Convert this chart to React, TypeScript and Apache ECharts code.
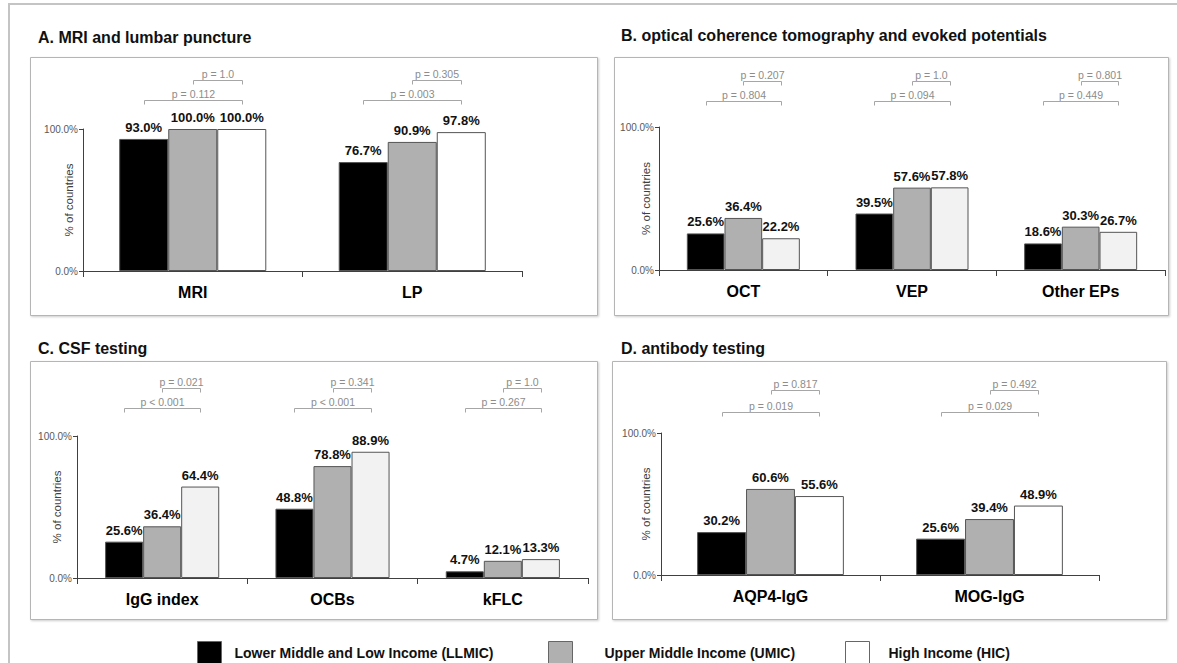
import React, { useEffect, useRef } from "react";
import * as echarts from "echarts";

const seriesNames = [
  "Lower Middle and Low Income (LLMIC)",
  "Upper Middle Income (UMIC)",
  "High Income (HIC)",
];

const panelTitles = [
  "A. MRI and lumbar puncture",
  "B. optical coherence tomography and evoked potentials",
  "C. CSF testing",
  "D. antibody testing",
];

const catsA = ["MRI", "LP"];
const llmicA = [93.0, 76.7];
const umicA = [100.0, 90.9];
const hicA = [100.0, 97.8];
const pOuterA = ["p = 0.112", "p = 0.003"];
const pInnerA = ["p = 1.0", "p = 0.305"];

const catsB = ["OCT", "VEP", "Other EPs"];
const llmicB = [25.6, 39.5, 18.6];
const umicB = [36.4, 57.6, 30.3];
const hicB = [22.2, 57.8, 26.7];
const pOuterB = ["p = 0.804", "p = 0.094", "p = 0.449"];
const pInnerB = ["p = 0.207", "p = 1.0", "p = 0.801"];

const catsC = ["IgG index", "OCBs", "kFLC"];
const llmicC = [25.6, 48.8, 4.7];
const umicC = [36.4, 78.8, 12.1];
const hicC = [64.4, 88.9, 13.3];
const pOuterC = ["p < 0.001", "p < 0.001", "p = 0.267"];
const pInnerC = ["p = 0.021", "p = 0.341", "p = 1.0"];

const catsD = ["AQP4-IgG", "MOG-IgG"];
const llmicD = [30.2, 25.6];
const umicD = [60.6, 39.4];
const hicD = [55.6, 48.9];
const pOuterD = ["p = 0.019", "p = 0.029"];
const pInnerD = ["p = 0.817", "p = 0.492"];

const yTicks = [0, 100];

const FONT = "'Liberation Sans', Arial, Helvetica, sans-serif";

const panelData = [
  { cats: catsA, vals: [llmicA, umicA, hicA], pOuter: pOuterA, pInner: pInnerA },
  { cats: catsB, vals: [llmicB, umicB, hicB], pOuter: pOuterB, pInner: pInnerB },
  { cats: catsC, vals: [llmicC, umicC, hicC], pOuter: pOuterC, pInner: pInnerC },
  { cats: catsD, vals: [llmicD, umicD, hicD], pOuter: pOuterD, pInner: pInnerD },
];

// layout (pixels)
const layout = [
  { box: [30, 57, 567, 258], title: [38, 38], grid: [83, 129, 439, 142], nameGap: 8, br: [29, 49], hic: "#ffffff" },
  { box: [614, 57, 554, 258], title: [621, 36], grid: [659, 127, 506, 143], nameGap: 7, br: [26, 46], hic: "#f2f2f2" },
  { box: [30, 361, 567, 258], title: [38, 349], grid: [77, 436, 511, 142], nameGap: 14, br: [28, 48], hic: "#f2f2f2" },
  { box: [612, 361, 554, 258], title: [621, 349], grid: [661, 433, 438, 142], nameGap: 9, br: [21, 43], hic: "#ffffff" },
];

const legendPos = [
  { left: 192, pad: 8 },
  { left: 543, pad: 27 },
  { left: 840, pad: 14 },
];

const GROUP = 0.67;

function makeRender(outer: string[], inner: string[], off1: number, off2: number) {
  return (params: any, api: any) => {
    const i = api.value(0);
    const c = api.coord([i, yTicks[1]]);
    const band = api.size([1, 0])[0];
    const bw = (band * GROUP) / 3;
    const x0 = Math.round(c[0] - bw) + 0.5;
    const x1 = Math.round(c[0]) + 0.5;
    const x2 = Math.round(c[0] + bw) + 0.5;
    const yo = Math.round(c[1] - off1) + 0.5;
    const yi = Math.round(c[1] - off2) + 0.5;
    const ls = { stroke: "#a6a6a6", fill: "none", lineWidth: 1 };
    const ts = { fill: "#8c8c8c", fontSize: 10.5, fontFamily: FONT, align: "center", verticalAlign: "middle" };
    return {
      type: "group",
      children: [
        { type: "polyline", shape: { points: [[x0, yo + 4], [x0, yo], [x2, yo], [x2, yo + 4]] }, style: ls },
        { type: "polyline", shape: { points: [[x1, yi + 4], [x1, yi], [x2, yi], [x2, yi + 4]] }, style: ls },
        { type: "text", x: (x0 + x2) / 2, y: yo - 7, style: { ...ts, text: outer[params.dataIndex] } },
        { type: "text", x: (x1 + x2) / 2, y: yi - 7, style: { ...ts, text: inner[params.dataIndex] } },
      ],
    };
  };
}

export default function App() {
  const ref = useRef<HTMLDivElement>(null);
  useEffect(() => {
    if (!ref.current) return;
    const chart = echarts.init(ref.current, undefined, { renderer: "svg" });
    const grids: any[] = [];
    const xAxes: any[] = [];
    const yAxes: any[] = [];
    const series: any[] = [];
    const titles: any[] = [];
    const graphics: any[] = [
      { type: "line", shape: { x1: 8, y1: 4, x2: 1177, y2: 4 }, style: { stroke: "#c4c4c4", lineWidth: 2 } },
      { type: "line", shape: { x1: 9, y1: 4, x2: 9, y2: 663 }, style: { stroke: "#c4c4c4", lineWidth: 2 } },
    ];
    panelData.forEach((pd, k) => {
      const L = layout[k];
      graphics.push({
        type: "rect",
        shape: { x: L.box[0] + 0.5, y: L.box[1] + 0.5, width: L.box[2], height: L.box[3] },
        style: { fill: "#ffffff", stroke: "#b5b5b5", lineWidth: 1, shadowBlur: 2, shadowOffsetX: 1, shadowOffsetY: 1, shadowColor: "rgba(0,0,0,0.2)" },
        z: -10,
      });
      titles.push({
        text: panelTitles[k],
        left: L.title[0],
        top: L.title[1] - 9,
        padding: 0,
        textStyle: { fontSize: 16, fontWeight: "bold", color: "#111", fontFamily: FONT },
      });
      grids.push({ left: L.grid[0], top: L.grid[1], width: L.grid[2], height: L.grid[3] });
      xAxes.push({
        type: "category",
        gridIndex: k,
        data: pd.cats,
        axisLine: { lineStyle: { color: "#404040", width: 1 } },
        axisTick: { show: true, length: 6, lineStyle: { color: "#404040" } },
        axisLabel: { fontSize: 16, fontWeight: "bold", color: "#000", margin: 13, fontFamily: FONT },
      });
      yAxes.push({
        type: "value",
        gridIndex: k,
        min: yTicks[0],
        max: yTicks[1],
        interval: 100,
        name: "% of countries",
        nameLocation: "middle",
        nameGap: L.nameGap,
        nameMoveOverlap: false,
        nameTextStyle: { fontSize: 11.5, color: "#404040", fontFamily: FONT },
        axisLine: { show: true, lineStyle: { color: "#404040", width: 1 } },
        axisTick: { show: true, length: 4, lineStyle: { color: "#404040" } },
        splitLine: { show: false },
        axisLabel: { fontSize: 10, color: "#595959", margin: 5, fontFamily: FONT, formatter: (v: number) => v.toFixed(1) + "%" },
      });
      const colors = ["#000000", "#b0b0b0", L.hic];
      pd.vals.forEach((vals, s) => {
        series.push({
          type: "bar",
          name: seriesNames[s],
          xAxisIndex: k,
          yAxisIndex: k,
          data: vals,
          barGap: "0%",
          barCategoryGap: "33%",
          itemStyle: { color: colors[s], borderColor: "#555555", borderWidth: 1 },
          label: {
            show: true,
            position: "top",
            distance: 5,
            fontSize: 13,
            fontWeight: "bold",
            color: "#111",
            fontFamily: FONT,
            formatter: (p: any) => Number(p.value).toFixed(1) + "%",
          },
        });
      });
      series.push({
        type: "custom",
        xAxisIndex: k,
        yAxisIndex: k,
        silent: true,
        clip: false,
        data: pd.cats.map((_, i) => [i, 0]),
        encode: { x: 0, y: 1 },
        renderItem: makeRender(pd.pOuter, pd.pInner, L.br[0], L.br[1]),
      });
    });
    const legends = seriesNames.map((n, s) => ({
      data: [n],
      left: legendPos[s].left,
      top: 636,
      itemWidth: 24,
      itemHeight: 22,
      selectedMode: false,
      icon: "rect",
      itemStyle: { borderColor: "#666", borderWidth: 1 },
      textStyle: { fontSize: 14, fontWeight: "bold", color: "#111", fontFamily: FONT, padding: [0, 0, 0, legendPos[s].pad] },
    }));
    chart.setOption({
      animation: false,
      backgroundColor: "#ffffff",
      title: titles,
      grid: grids,
      xAxis: xAxes,
      yAxis: yAxes,
      legend: legends,
      series,
      graphic: graphics,
    });
    return () => chart.dispose();
  }, []);
  return (
    <div
      ref={ref}
      style={{ position: "absolute", left: 0, top: 0, width: 1177, height: 663, background: "#fff" }}
    />
  );
}
